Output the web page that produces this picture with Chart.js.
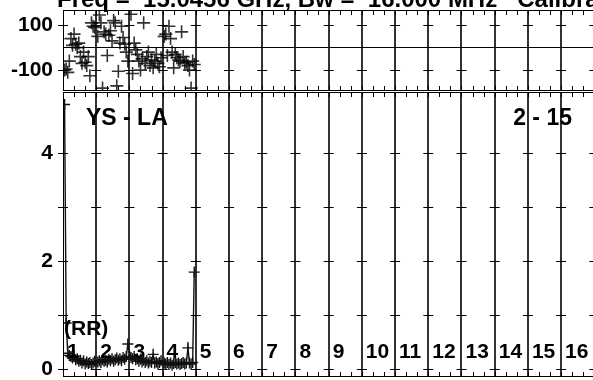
<!DOCTYPE html>
<html>
<head>
<meta charset="utf-8">
<script src="https://cdn.jsdelivr.net/npm/chart.js@4/dist/chart.umd.min.js"></script>
<style>
  html, body { margin: 0; padding: 0; background: #fff; }
  #wrap { position: relative; width: 593px; height: 380px; overflow: hidden; background: #fff; }
  .box { position: absolute; left: 0; width: 593px; }
  #topBox { top: 0; height: 91px; }
  #botBox { top: 92px; height: 288px; }
</style>
</head>
<body>
<div id="wrap">
  <div class="box" id="topBox"><canvas id="phase"></canvas></div>
  <div class="box" id="botBox"><canvas id="amp"></canvas></div>
</div>
<script>
// IF numbers along the bottom
const ifLabels = ['1', '2', '3', '4', '5', '6', '7', '8', '9', '10', '11', '12', '13', '14', '15', '16'];
const chanPerIF = 20;

// phase (degrees), one row per IF that has data
const phaseIF1 = [-100, -95, -110, -60, 40, 10, 60, 15, 0, 20, -40, -70, -20, -65, -80, -40, -125, 110, 95, 90];
const phaseIF2 = [50, 145, 110, -180, 70, 60, -35, 55, 75, 30, 120, 110, -170, -105, 20, 95, 45, 15, -20, -60];
const phaseIF3 = [148, -115, 20, -10, -30, -60, -100, -50, 110, -70, -40, -20, -80, -55, -90, -60, -30, -70, -85, -45];
const phaseIF4 = [50, 60, -35, 95, 40, -20, -90, -30, -45, -55, -60, 70, -40, -70, -65, -80, -100, -180, -60, -75];

// amplitude, one row per IF that has data
const ampIF1 = [4.9, 0.86, 0.30, 0.26, 0.24, 0.21, 0.25, 0.18, 0.20, 0.15, 0.17, 0.12, 0.16, 0.10, 0.14, 0.11, 0.13, 0.09, 0.12, 0.15];
const ampIF2 = [0.14, 0.16, 0.13, 0.18, 0.15, 0.17, 0.14, 0.19, 0.16, 0.20, 0.15, 0.18, 0.21, 0.17, 0.20, 0.16, 0.22, 0.19, 0.24, 0.47];
const ampIF3 = [0.22, 0.20, 0.24, 0.18, 0.20, 0.15, 0.19, 0.14, 0.17, 0.13, 0.16, 0.12, 0.15, 0.13, 0.28, 0.12, 0.14, 0.11, 0.13, 0.16];
const ampIF4 = [0.12, 0.10, 0.13, 0.09, 0.12, 0.08, 0.11, 0.13, 0.10, 0.12, 0.09, 0.11, 0.13, 0.10, 0.12, 0.40, 0.12, 0.10, 0.13, 1.8];

const phaseTicks = [-100, 0, 100];
const ampTicks = [0, 2, 4];
const ampCrosses = [0, 1, 2, 3, 4];

const FONT = '"Liberation Sans", Arial, sans-serif';
const X_MAX = 15.96;

// channel position inside its IF
const toPoints = (rows) => {
  const pts = [];
  rows.forEach((row, i) => {
    row.forEach((v, c) => {
      pts.push({ x: i + (c + 1) / (chanPerIF + 1), y: v });
    });
  });
  return pts;
};

const phasePoints = toPoints([phaseIF1, phaseIF2, phaseIF3, phaseIF4]);
const ampPoints = toPoints([ampIF1, ampIF2, ampIF3, ampIF4]);

// frame, minor ticks and the little crosses on each IF line
const frameDeco = {
  id: 'frameDeco',
  afterDraw(chart, args, opts) {
    const { ctx, chartArea: a, scales: { x, y } } = chart;
    ctx.save();
    ctx.strokeStyle = '#000';
    ctx.lineWidth = 1;
    ctx.strokeRect(a.left + 0.5, a.top + 0.5, a.width + 2, a.height - 1);

    ctx.beginPath();
    for (let k = 1; k <= 16 * 3; k++) {
      const px = Math.round(x.getPixelForValue(k / 3)) + 0.5;
      if (px > a.right) break;
      ctx.moveTo(px, a.top);
      ctx.lineTo(px, a.top + 5);
      ctx.moveTo(px, a.bottom);
      ctx.lineTo(px, a.bottom - 5);
    }
    ctx.stroke();

    ctx.beginPath();
    (opts.crosses || []).forEach((v) => {
      const py = Math.round(y.getPixelForValue(v)) + 0.5;
      for (let i = 0; i <= 16; i++) {
        const px = x.getPixelForValue(i);
        ctx.moveTo(px - 5, py);
        ctx.lineTo(px + 5, py);
      }
    });
    ctx.stroke();

    ctx.fillStyle = '#000';
    (opts.texts || []).forEach((t) => {
      ctx.font = t.font;
      ctx.textAlign = t.align || 'left';
      ctx.textBaseline = 'alphabetic';
      ctx.fillText(t.text, t.x(chart), t.y(chart));
    });
    if (opts.ifNumbers) {
      ctx.font = 'bold 21px ' + FONT;
      ctx.textAlign = 'left';
      const by = y.getPixelForValue(0) - 11;
      ifLabels.forEach((lab, i) => {
        ctx.fillText(lab, x.getPixelForValue(i) + 4, by);
      });
    }
    ctx.restore();
  }
};

const xScale = {
  type: 'linear',
  min: 0,
  max: X_MAX,
  afterBuildTicks: (s) => { s.ticks = ifLabels.map((_, i) => ({ value: i })); },
  afterFit: (s) => { s.height = 0; s.paddingLeft = 0; s.paddingRight = 0; },
  ticks: { display: false },
  border: { display: false },
  grid: {
    drawTicks: false,
    color: (c) => (c.tick && c.tick.value === 0 ? 'rgba(0,0,0,0)' : '#333'),
    lineWidth: 2,
  },
};

const yTickFont = { family: FONT, size: 21, weight: 'bold' };
const fitY = (s) => { s.width = 63; s.paddingTop = 0; s.paddingBottom = 0; };

new Chart(document.getElementById('phase'), {
  type: 'scatter',
  data: {
    datasets: [{
      data: phasePoints,
      pointStyle: 'cross',
      pointRadius: 6.5,
      borderColor: 'rgba(0,0,0,0.8)',
      borderWidth: 1.6,
      showLine: false,
    }],
  },
  options: {
    responsive: true,
    maintainAspectRatio: false,
    animation: false,
    layout: { autoPadding: false, padding: { top: 10, right: 0, bottom: 0, left: 0 } },
    plugins: {
      legend: { display: false },
      tooltip: { enabled: false },
      frameDeco: {
        crosses: [-100, 100],
        texts: [{
          text: 'Freq =  15.0456 GHz, Bw =  16.000 MHz   Calibrated',
          font: 'bold 24px ' + FONT,
          x: () => 57,
          y: () => 7,
        }],
      },
    },
    scales: {
      x: xScale,
      y: {
        min: -193,
        max: 167,
        afterBuildTicks: (s) => { s.ticks = phaseTicks.map((v) => ({ value: v })); },
        afterFit: fitY,
        border: { display: false },
        grid: {
          drawTicks: false,
          color: (c) => (c.tick && c.tick.value === 0 ? '#000' : 'rgba(0,0,0,0)'),
        },
        ticks: {
          color: '#000',
          font: yTickFont,
          padding: 10,
          callback: (v) => (v === 0 ? '' : String(v)),
        },
      },
    },
  },
  plugins: [frameDeco],
});

new Chart(document.getElementById('amp'), {
  type: 'line',
  data: {
    datasets: [{
      data: ampPoints,
      pointStyle: 'cross',
      pointRadius: 5.5,
      borderColor: '#111',
      borderWidth: 1.4,
      tension: 0,
      fill: false,
    }],
  },
  options: {
    responsive: true,
    maintainAspectRatio: false,
    animation: false,
    layout: { autoPadding: false, padding: { top: 0, right: 0, bottom: 3, left: 0 } },
    plugins: {
      legend: { display: false },
      tooltip: { enabled: false },
      frameDeco: {
        crosses: ampCrosses,
        ifNumbers: true,
        texts: [
          { text: 'YS - LA', font: 'bold 23px ' + FONT, x: (c) => c.chartArea.left + 23, y: (c) => c.chartArea.top + 33 },
          { text: '2 - 15', font: 'bold 23px ' + FONT, align: 'right', x: () => 572, y: (c) => c.chartArea.top + 33 },
          { text: '(RR)', font: 'bold 21px ' + FONT, x: (c) => c.chartArea.left + 1, y: (c) => c.scales.y.getPixelForValue(0) - 34 },
        ],
      },
    },
    scales: {
      x: xScale,
      y: {
        min: -0.139,
        max: 5.13,
        afterBuildTicks: (s) => { s.ticks = ampTicks.map((v) => ({ value: v })); },
        afterFit: fitY,
        border: { display: false },
        grid: { drawTicks: false, color: 'rgba(0,0,0,0)' },
        ticks: { color: '#000', font: yTickFont, padding: 10 },
      },
    },
  },
  plugins: [frameDeco],
});
</script>
</body>
</html>
